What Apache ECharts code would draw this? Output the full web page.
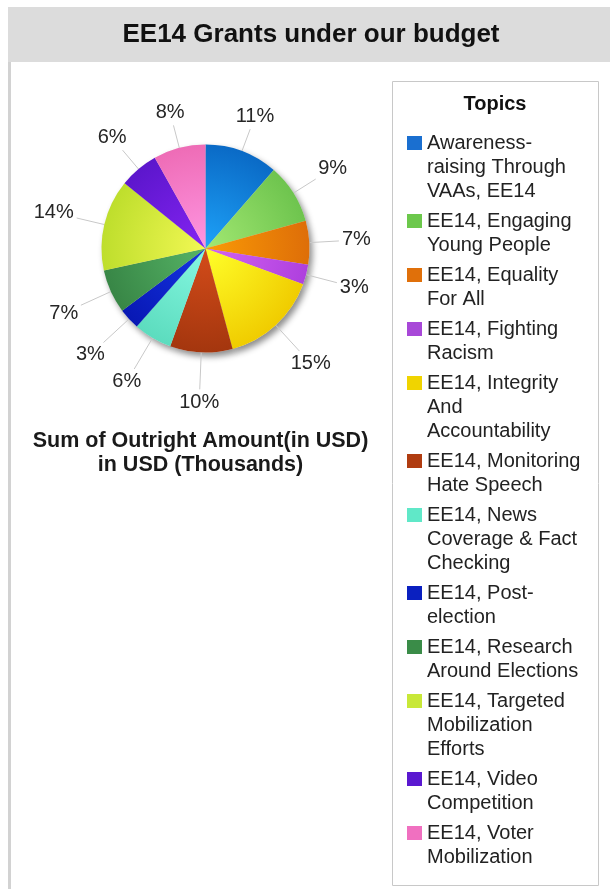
<!DOCTYPE html>
<html>
<head>
<meta charset="utf-8">
<script src="https://cdn.jsdelivr.net/npm/echarts@6/dist/echarts.min.js"></script>
<style>
  html, body { margin: 0; padding: 0; background: #fff; }
  #chart { width: 610px; height: 889px; }
</style>
</head>
<body>
<div id="chart"></div>
<script>
// topic names and amounts (USD thousands), clockwise from 12 o'clock
const topics = [
  'Awareness-raising Through VAAs, EE14',
  'EE14, Engaging Young People',
  'EE14, Equality For All',
  'EE14, Fighting Racism',
  'EE14, Integrity And Accountability',
  'EE14, Monitoring Hate Speech',
  'EE14, News Coverage & Fact Checking',
  'EE14, Post-election',
  'EE14, Research Around Elections',
  'EE14, Targeted Mobilization Efforts',
  'EE14, Video Competition',
  'EE14, Voter Mobilization'
];
const amounts = [114, 93, 68, 31, 152, 97, 60, 33, 68, 142, 61, 81];

// how the legend wraps each topic
const legendLines = [
  ['Awareness-', 'raising Through', 'VAAs, EE14'],
  ['EE14, Engaging', 'Young People'],
  ['EE14, Equality', 'For All'],
  ['EE14, Fighting', 'Racism'],
  ['EE14, Integrity', 'And', 'Accountability'],
  ['EE14, Monitoring', 'Hate Speech'],
  ['EE14, News', 'Coverage & Fact', 'Checking'],
  ['EE14, Post-', 'election'],
  ['EE14, Research', 'Around Elections'],
  ['EE14, Targeted', 'Mobilization', 'Efforts'],
  ['EE14, Video', 'Competition'],
  ['EE14, Voter', 'Mobilization']
];

const lightColors = ['#1ea2f8', '#a2e872', '#fa9a06', '#d462f2', '#ffff2a', '#d44c1a', '#86f8e2', '#1434e4', '#56b466', '#f2f854', '#8424f2', '#ff96e2'];
const darkColors  = ['#0a6ac6', '#6ec44e', '#de6e08', '#ae40de', '#f0cc00', '#a4360e', '#5cdcbe', '#0818b4', '#388646', '#bede2c', '#5c16cc', '#ee6cb6'];
const legendColors = ['#1a6fd0', '#6cc84c', '#e0700a', '#a848d8', '#f0d400', '#b03c10', '#60e8c8', '#0a20c0', '#3a8c48', '#c8e838', '#5a18d0', '#f070c0'];

const FONT = 'Liberation Sans, Arial, sans-serif';
const CX = 205.5, CY = 248.5, R = 104;
const LABEL_GAP = 3;

const chart = echarts.init(document.getElementById('chart'));

const rich = {
  g: { width: 5, lineHeight: 24 },
  i: { width: 20, lineHeight: 24 },
  t: { fontSize: 20, lineHeight: 24, color: '#222', fontFamily: FONT }
};
legendColors.forEach((c, k) => {
  rich['s' + k] = { width: 15, height: 14, lineHeight: 24, backgroundColor: c };
});

const pieData = topics.map((name, k) => ({
  name: name,
  value: amounts[k],
  itemStyle: {
    color: {
      type: 'radial', x: CX, y: CY, r: R, global: true,
      colorStops: [{ offset: 0, color: lightColors[k] }, { offset: 1, color: darkColors[k] }]
    }
  }
}));

const option = {
  animation: false,
  graphic: [
    { type: 'rect', shape: { x: 8, y: 7, width: 3, height: 882 }, style: { fill: '#d2d2d2' } },
    { type: 'rect', shape: { x: 8, y: 7, width: 602, height: 55 }, style: { fill: '#dcdcdc' } },
    { type: 'text', x: 311, y: 35, style: { text: 'EE14 Grants under our budget', font: 'bold 26px ' + FONT, fill: '#111', align: 'center', verticalAlign: 'middle' } },
    { type: 'rect', shape: { x: 392.5, y: 81.5, width: 206, height: 804 }, style: { fill: 'none', stroke: '#c8c8c8', lineWidth: 1 } },
    { type: 'text', x: 495, y: 104, style: { text: 'Topics', font: 'bold 20px ' + FONT, fill: '#111', align: 'center', verticalAlign: 'middle' } },
    { type: 'text', x: 200.5, y: 453, style: { text: 'Sum of Outright Amount(in USD)\nin USD (Thousands)', font: 'bold 21.5px ' + FONT, lineHeight: 24, fill: '#1a1a1a', align: 'center', verticalAlign: 'middle' } }
  ],
  legend: {
    orient: 'vertical',
    left: 402,
    top: 131,
    padding: 0,
    itemGap: 6,
    itemWidth: 0,
    itemHeight: 0,
    itemStyle: { opacity: 0 },
    selectedMode: false,
    data: topics,
    formatter: function (name) {
      const k = topics.indexOf(name);
      return legendLines[k].map((line, j) =>
        (j === 0 ? '{s' + k + '|}{g|}' : '{i|}') + '{t|' + line + '}'
      ).join('\n');
    },
    textStyle: { fontSize: 20, lineHeight: 24, color: '#222', fontFamily: FONT, rich: rich }
  },
  series: [
    {
      // soft drop shadow under the pie
      type: 'pie',
      silent: true,
      z: 1,
      center: [CX, CY],
      radius: R,
      startAngle: 90,
      data: topics.map((name, k) => ({ name: name, value: amounts[k] })),
      itemStyle: { color: '#eeeeee', shadowBlur: 6, shadowOffsetX: 3, shadowOffsetY: 4, shadowColor: 'rgba(0,0,0,0.45)' },
      label: { show: false },
      labelLine: { show: false },
      emphasis: { disabled: true }
    },
    {
      type: 'pie',
      z: 2,
      center: [CX, CY],
      radius: R,
      startAngle: 90,
      clockwise: true,
      avoidLabelOverlap: false,
      data: pieData,
      itemStyle: { borderWidth: 0 },
      emphasis: { disabled: true },
      label: {
        position: 'outside',
        formatter: p => Math.round(p.percent) + '%',
        fontSize: 20,
        fontFamily: FONT,
        color: '#262626'
      },
      labelLine: { show: true, length: 10, length2: 0, lineStyle: { color: '#c8c8c8', width: 1 } },
      labelLayout: function (p) {
        const a = p.labelLinePoints[0], b = p.labelLinePoints[1];
        let dx = b[0] - a[0], dy = b[1] - a[1];
        const len = Math.hypot(dx, dy) || 1;
        dx /= len; dy /= len;
        // lines below the pie run a little longer than those above it
        const lineLen = 30 + 7 * dy;
        const end = [a[0] + dx * lineLen, a[1] + dy * lineLen];
        const hw = p.labelRect.width / 2, hh = p.labelRect.height / 2;
        const tx = Math.abs(dx) > 1e-6 ? hw / Math.abs(dx) : Infinity;
        const ty = Math.abs(dy) > 1e-6 ? hh / Math.abs(dy) : Infinity;
        const t = Math.min(tx, ty) + LABEL_GAP;
        return {
          x: end[0] + dx * t,
          y: end[1] + dy * t,
          align: 'center',
          verticalAlign: 'middle',
          labelLinePoints: [[a[0], a[1]], end, end]
        };
      }
    }
  ]
};

chart.setOption(option);
</script>
</body>
</html>
